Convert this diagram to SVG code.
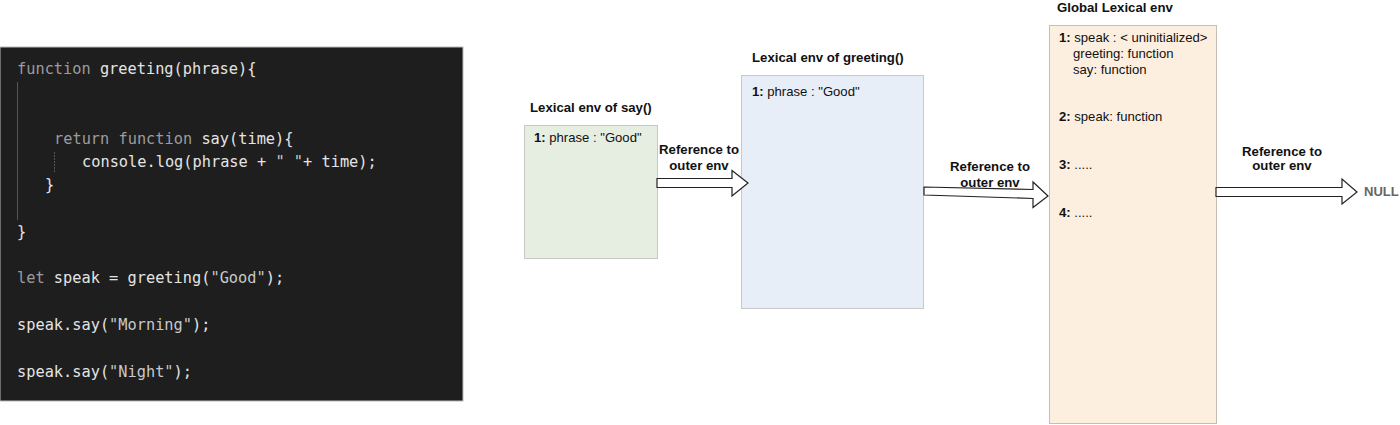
<svg xmlns="http://www.w3.org/2000/svg" width="1400" height="425" viewBox="0 0 1400 425">
<defs>
<style>
.code{font-family:"DejaVu Sans Mono","Liberation Mono",monospace;font-size:15.3px;fill:#e4e4e4}
.kw{fill:#9c9c9c}
.str{fill:#c9c9c9}
.title{font-family:"Liberation Sans",Arial,sans-serif;font-size:13.2px;font-weight:bold;fill:#111}
.lbl{font-family:"Liberation Sans",Arial,sans-serif;font-size:13.1px;fill:#111}
.lbl tspan.b{font-weight:bold}
.ref{font-family:"Liberation Sans",Arial,sans-serif;font-size:13.2px;font-weight:bold;fill:#111;text-anchor:middle}
.arrow{fill:#fff;stroke:#222;stroke-width:1.2;stroke-linejoin:miter}
.guide{stroke:#555;stroke-width:1}
</style>
</defs>
<rect width="1400" height="425" fill="#fff"/>
<g id="code-panel">
<rect x="0" y="47" width="463" height="354" fill="#1e1e1e" stroke="#bbb" stroke-width="1"/>
<line class="guide" x1="17.5" y1="82" x2="17.5" y2="220"/>
<line class="guide" x1="54.5" y1="152" x2="54.5" y2="173" stroke-dasharray="2,1"/>
<text class="code" x="17" y="74"><tspan class="kw">function</tspan> greeting(phrase){</text>
<text class="code" x="54" y="144"><tspan class="kw">return</tspan> <tspan class="kw">function</tspan> say(time){</text>
<text class="code" x="82" y="167">console.log(phrase + <tspan class="str">" "</tspan>+ time);</text>
<text class="code" x="45" y="190">}</text>
<text class="code" x="17" y="237">}</text>
<text class="code" x="17" y="283"><tspan class="kw">let</tspan> speak = greeting(<tspan class="str">"Good"</tspan>);</text>
<text class="code" x="17" y="330">speak.say(<tspan class="str">"Morning"</tspan>);</text>
<text class="code" x="17" y="377">speak.say(<tspan class="str">"Night"</tspan>);</text>
</g>
<g id="env-say">
<text class="title" x="530" y="112">Lexical env of say()</text>
<rect x="524.5" y="125.5" width="133" height="133" fill="#e6ede1" stroke="#c8c8c8"/>
<text class="lbl" x="534" y="142"><tspan class="b">1:</tspan> phrase : "Good"</text>
</g>
<g id="env-greeting">
<text class="title" x="752" y="62">Lexical env of greeting()</text>
<rect x="741.5" y="75.5" width="182" height="233" fill="#e8eef8" stroke="#c8c8c8"/>
<text class="lbl" x="752" y="96"><tspan class="b">1:</tspan> phrase : "Good"</text>
</g>
<g id="env-global">
<text class="title" x="1057" y="12">Global Lexical env</text>
<rect x="1049.5" y="25.5" width="167" height="398" fill="#fdefe0" stroke="#c8beb2"/>
<text class="lbl" x="1059" y="42"><tspan class="b">1:</tspan> speak : &lt; uninitialized&gt;</text>
<text class="lbl" x="1073" y="58">greeting: function</text>
<text class="lbl" x="1073" y="74">say: function</text>
<text class="lbl" x="1059" y="121"><tspan class="b">2:</tspan> speak: function</text>
<text class="lbl" x="1059" y="169"><tspan class="b">3:</tspan> .....</text>
<text class="lbl" x="1059" y="217"><tspan class="b">4:</tspan> .....</text>
</g>
<g id="null-node">
<text x="1364" y="196" font-family="'Liberation Sans',Arial,sans-serif" font-size="13" font-weight="bold" fill="#666">NULL</text>
</g>
<g id="connectors">
<polygon class="arrow" points="657,178.5 732,178.5 732,170.5 748,183 732,196 732,187.5 657,187.5"/>
<text class="ref" x="699" y="154">Reference to</text>
<text class="ref" x="699" y="170">outer env</text>
<polygon class="arrow" points="924,187 1033,189.5 1033,182 1048,196 1033,207.5 1033,198.5 924,195"/>
<text class="ref" x="990" y="171">Reference to</text>
<text class="ref" x="990" y="187">outer env</text>
<polygon class="arrow" points="1216,187.5 1342,187.5 1342,179 1357,192 1342,204 1342,196.5 1216,196.5"/>
<text class="ref" x="1282" y="156">Reference to</text>
<text class="ref" x="1282" y="170">outer env</text>
</g>
</svg>
